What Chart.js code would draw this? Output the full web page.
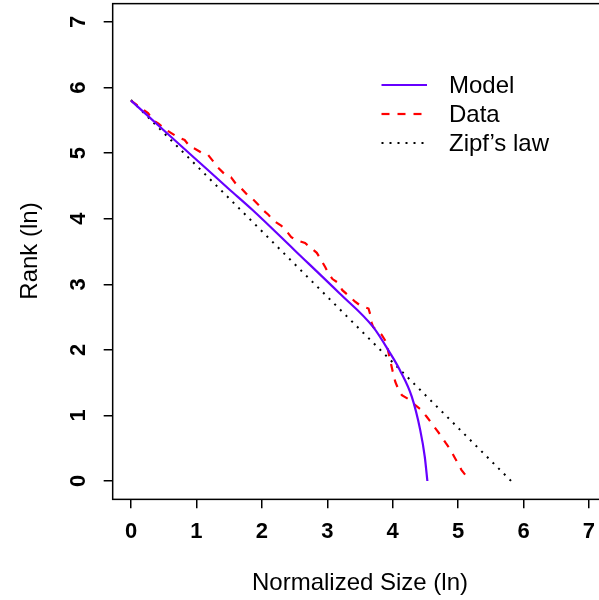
<!DOCTYPE html>
<html>
<head>
<meta charset="utf-8">
<script src="https://cdn.jsdelivr.net/npm/chart.js@4"></script>
<style>
html,body{margin:0;padding:0;background:#fff;overflow:hidden;}
#c{display:block;}
</style>
</head>
<body>
<canvas id="c" width="599" height="600" style="width:599px;height:600px"></canvas>
<script>
// ---- data (natural log scale) ----
const xTickValues = [0, 1, 2, 3, 4, 5, 6, 7];
const yTickValues = [0, 1, 2, 3, 4, 5, 6, 7];
const seriesNames = ['Model', 'Data', 'Zipf\u2019s law'];
const xTitle = 'Normalized Size (ln)';
const yTitle = 'Rank (ln)';

const modelX = [0.00, 0.50, 1.00, 1.50, 1.85, 2.50, 3.19, 3.70, 3.96, 4.11, 4.29, 4.42, 4.49, 4.53];
const modelY = [5.80, 5.35, 4.90, 4.45, 4.14, 3.52, 2.86, 2.35, 1.95, 1.69, 1.29, 0.78, 0.37, 0.00];

const dataX = [0.00, 0.19, 0.26, 0.34, 0.42, 0.53, 0.61, 0.72, 0.82, 0.90, 0.99, 1.09, 1.18, 1.26, 1.33,
  1.44, 1.53, 1.62, 1.69, 1.78, 1.85, 1.95, 2.02, 2.10, 2.18, 2.30, 2.36, 2.45, 2.53, 2.66, 2.72,
  2.84, 2.90, 2.97, 3.01, 3.08, 3.17, 3.23, 3.31, 3.42, 3.50, 3.63, 3.66, 3.68, 3.70, 3.83, 3.90,
  3.96, 4.00, 4.04, 4.09, 4.14, 4.24, 4.34, 4.43, 4.52, 4.58, 4.67, 4.73, 4.81, 4.88, 4.94, 4.99,
  5.05, 5.12, 5.16];
const dataY = [5.80, 5.66, 5.61, 5.50, 5.45, 5.36, 5.31, 5.24, 5.20, 5.10, 5.06, 5.00, 4.97, 4.87, 4.78,
  4.67, 4.63, 4.51, 4.46, 4.36, 4.31, 4.21, 4.13, 4.06, 3.97, 3.89, 3.83, 3.72, 3.67, 3.63, 3.58,
  3.48, 3.38, 3.26, 3.18, 3.08, 3.02, 2.91, 2.84, 2.74, 2.68, 2.63, 2.53, 2.41, 2.35, 2.23, 2.12,
  1.85, 1.67, 1.51, 1.39, 1.31, 1.25, 1.16, 1.09, 0.98, 0.90, 0.78, 0.70, 0.58, 0.48, 0.37, 0.28,
  0.17, 0.08, 0.00];

const zipfX = [0.00, 5.81];
const zipfY = [5.81, 0.00];

function pts(xs, ys) { return xs.map((x, i) => ({x: x, y: ys[i]})); }

const FONT = "'Liberation Sans', Arial, Helvetica, sans-serif";

const rDecor = {
  id: 'rDecor',
  afterDraw(chart) {
    const ctx = chart.ctx;
    const ca = chart.chartArea;
    const xs = chart.scales.x, ys = chart.scales.y;
    ctx.save();
    // box
    ctx.strokeStyle = '#000';
    ctx.lineWidth = 1.5;
    ctx.setLineDash([]);
    ctx.strokeRect(ca.left, ca.top, (ca.right + 10) - ca.left, ca.bottom - ca.top);
    // tick labels
    ctx.fillStyle = '#000';
    ctx.font = 'bold 22px ' + FONT;
    ctx.textAlign = 'center';
    ctx.textBaseline = 'middle';
    xs.ticks.forEach(t => {
      if (xTickValues.indexOf(t.value) < 0) return;
      ctx.fillText(String(t.value), xs.getPixelForValue(t.value), 532);
    });
    ys.ticks.forEach(t => {
      if (yTickValues.indexOf(t.value) < 0) return;
      ctx.save();
      ctx.translate(79, ys.getPixelForValue(t.value));
      ctx.rotate(-Math.PI / 2);
      ctx.fillText(String(t.value), 0, 0);
      ctx.restore();
    });
    // axis titles
    ctx.font = '24px ' + FONT;
    ctx.fillText(xTitle, 360, 583);
    ctx.save();
    ctx.translate(30, 251);
    ctx.rotate(-Math.PI / 2);
    ctx.fillText(yTitle, 0, 0);
    ctx.restore();
    // legend
    const rows = [85, 114, 143];
    chart.data.datasets.forEach((ds, i) => {
      ctx.save();
      ctx.strokeStyle = ds.borderColor;
      ctx.lineWidth = ds.borderWidth;
      ctx.setLineDash(ds.borderDash || []);
      ctx.lineCap = 'butt';
      ctx.beginPath();
      ctx.moveTo(381.5, rows[i]);
      ctx.lineTo(427, rows[i]);
      ctx.stroke();
      ctx.restore();
      ctx.textAlign = 'left';
      ctx.textBaseline = 'middle';
      ctx.fillStyle = '#000';
      ctx.fillText(ds.label, 449, rows[i] + 1);
    });
    ctx.restore();
  }
};

new Chart(document.getElementById('c'), {
  type: 'scatter',
  data: {
    datasets: [
      { label: seriesNames[0], data: pts(modelX, modelY), showLine: true, borderColor: '#6600FF',
        borderWidth: 2.2, pointRadius: 0, borderDash: [], cubicInterpolationMode: 'monotone' },
      { label: seriesNames[1], data: pts(dataX, dataY), showLine: true, borderColor: '#FF0000',
        borderWidth: 2.2, pointRadius: 0, borderDash: [8, 8], tension: 0 },
      { label: seriesNames[2], data: pts(zipfX, zipfY), showLine: true, borderColor: '#000000',
        borderWidth: 2, pointRadius: 0, borderDash: [2, 6], tension: 0 }
    ]
  },
  options: {
    responsive: false,
    animation: false,
    devicePixelRatio: 1,
    layout: { padding: { top: 3.64, right: 0, bottom: 0, left: 0 } },
    plugins: { legend: { display: false }, tooltip: { enabled: false } },
    scales: {
      x: {
        type: 'linear', min: -0.28, max: 7.153,
        ticks: { display: false, stepSize: 1, includeBounds: false },
        grid: { drawOnChartArea: false, drawTicks: true, tickLength: 9, color: '#000', lineWidth: 1.5 },
        border: { display: false },
        afterFit(s) { s.height = 600 - 499.36; }
      },
      y: {
        type: 'linear', min: -0.28, max: 7.28,
        ticks: { display: false, stepSize: 1, includeBounds: false },
        grid: { drawOnChartArea: false, drawTicks: true, tickLength: 9, color: '#000', lineWidth: 1.5 },
        border: { display: false },
        afterFit(s) { s.width = 112.68; }
      }
    }
  },
  plugins: [rDecor]
});
</script>
</body>
</html>
